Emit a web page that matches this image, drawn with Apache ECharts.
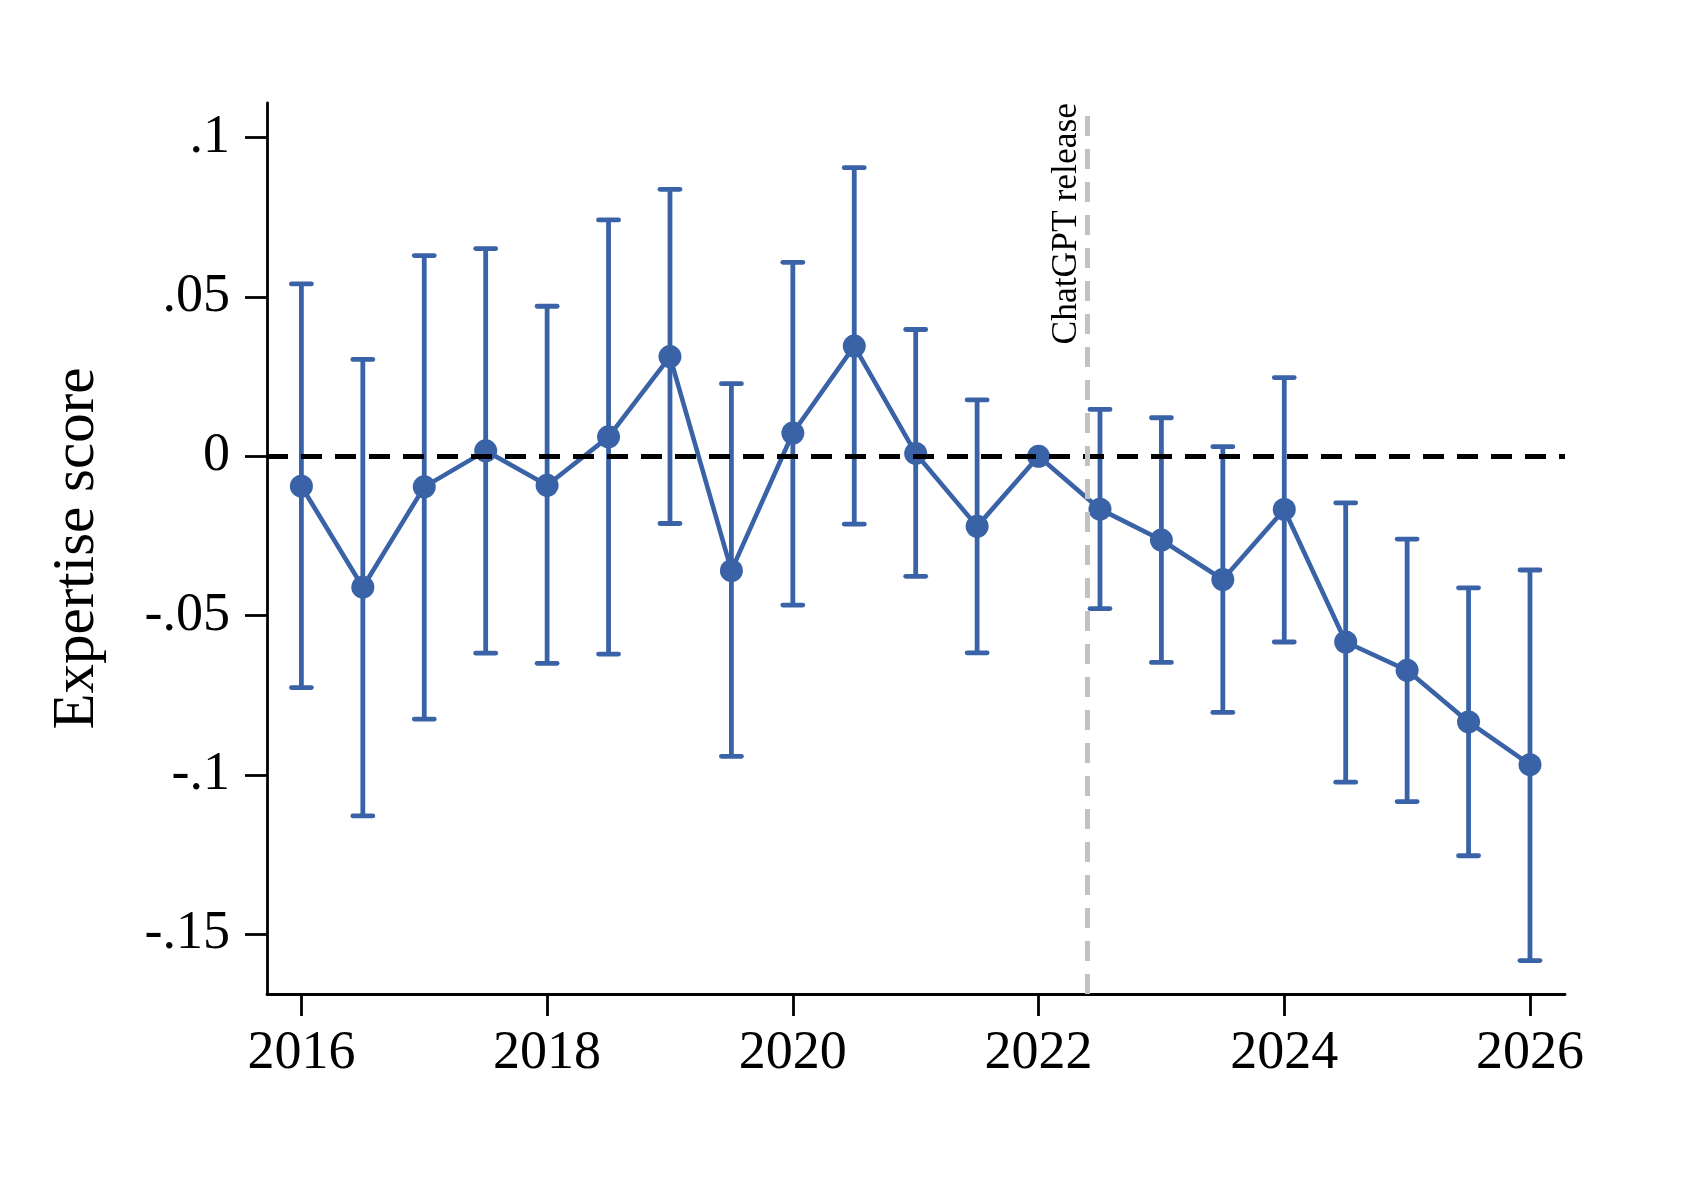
<!DOCTYPE html>
<html>
<head>
<meta charset="utf-8">
<script src="https://cdn.jsdelivr.net/npm/echarts@6/dist/echarts.min.js"></script>
<style>
html,body{margin:0;padding:0;background:#ffffff;}
#chart{width:1692px;height:1180px;}
</style>
</head>
<body>
<div id="chart"></div>
<script>
// ---- Data ----
const periods = [2016, 2016.5, 2017, 2017.5, 2018, 2018.5, 2019, 2019.5, 2020, 2020.5,
                 2021, 2021.5, 2022, 2022.5, 2023, 2023.5, 2024, 2024.5, 2025, 2025.5, 2026];
const estimates = [-0.0094, -0.0411, -0.0096, 0.0017, -0.0091, 0.0061, 0.0313, -0.0359, 0.0073, 0.0346,
                   0.0009, -0.0220, 0.0000, -0.0166, -0.0263, -0.0387, -0.0167, -0.0583, -0.0672, -0.0834, -0.0968];
const ciUpper = [0.0541, 0.0304, 0.0630, 0.0652, 0.0471, 0.0742, 0.0838, 0.0228, 0.0609, 0.0906,
                 0.0398, 0.0177, null, 0.0147, 0.0121, 0.0030, 0.0247, -0.0146, -0.0260, -0.0413, -0.0357];
const ciLower = [-0.0726, -0.1129, -0.0825, -0.0618, -0.0650, -0.0621, -0.0211, -0.0942, -0.0467, -0.0213,
                 -0.0377, -0.0617, null, -0.0478, -0.0647, -0.0804, -0.0583, -0.1023, -0.1084, -0.1254, -0.1583];
const xTicks = [2016, 2018, 2020, 2022, 2024, 2026];
const yTicks = [-0.15, -0.1, -0.05, 0, 0.05, 0.1];
const yTickLabels = ['-.15', '-.1', '-.05', '0', '.05', '.1'];
const releaseDate = 2022.4;
const releaseLabel = 'ChatGPT release';
const yAxisTitle = 'Expertise score';

// ---- Styling ----
const BLUE = '#3a63a7';
const FONT = 'Liberation Serif';

const pointData = periods.map((p, i) => [p, estimates[i]]);
const ciData = periods
  .map((p, i) => [p, ciLower[i], ciUpper[i]])
  .filter(d => d[1] !== null && d[2] !== null);

const chart = echarts.init(document.getElementById('chart'), null, {renderer: 'canvas'});

const option = {
  animation: false,
  backgroundColor: '#ffffff',
  grid: {
    left: 267, right: 127, top: 103, bottom: 186,
    containLabel: false,
    outerBoundsMode: 'none'
  },
  xAxis: {
    type: 'value',
    min: 2015.72,
    max: 2026.285,
    splitLine: {show: false},
    axisLine: {show: true, onZero: false, lineStyle: {color: '#000', width: 2.8}},
    axisTick: {show: true, length: 22, lineStyle: {color: '#000', width: 2.8}, customValues: xTicks},
    axisLabel: {
      show: true, customValues: xTicks, margin: 33,
      fontSize: 54, color: '#000', fontFamily: FONT,
      formatter: v => String(Math.round(v))
    }
  },
  yAxis: {
    type: 'value',
    min: -0.1688,
    max: 0.1109,
    splitLine: {show: false},
    axisLine: {show: true, onZero: false, lineStyle: {color: '#000', width: 2.8}},
    axisTick: {show: true, length: 22, lineStyle: {color: '#000', width: 2.8}, customValues: yTicks},
    axisLabel: {
      show: true, customValues: yTicks, margin: 37,
      fontSize: 54, color: '#000', fontFamily: FONT,
      formatter: v => {
        const i = yTicks.findIndex(t => Math.abs(t - v) < 1e-9);
        return i >= 0 ? yTickLabels[i] : '';
      }
    },
    name: yAxisTitle,
    nameLocation: 'middle',
    nameRotate: 90,
    nameGap: 160,
    nameTextStyle: {fontSize: 59, color: '#000', fontFamily: FONT}
  },
  series: [
    {
      type: 'custom',
      name: 'ci',
      data: ciData,
      encode: {x: 0, y: [1, 2]},
      z: 2,
      silent: true,
      renderItem: function (params, api) {
        const x = api.value(0);
        const lo = api.coord([x, api.value(1)]);
        const hi = api.coord([x, api.value(2)]);
        const hw = 10;
        const style = {stroke: BLUE, lineWidth: 4.8, lineCap: 'round'};
        return {
          type: 'group',
          children: [
            {type: 'line', shape: {x1: lo[0], y1: lo[1], x2: hi[0], y2: hi[1]}, style: {stroke: BLUE, lineWidth: 4.8}},
            {type: 'line', shape: {x1: hi[0] - hw, y1: hi[1], x2: hi[0] + hw, y2: hi[1]}, style: style},
            {type: 'line', shape: {x1: lo[0] - hw, y1: lo[1], x2: lo[0] + hw, y2: lo[1]}, style: style}
          ]
        };
      }
    },
    {
      type: 'line',
      name: 'estimate',
      data: pointData,
      z: 3,
      symbol: 'circle',
      symbolSize: 23,
      showSymbol: true,
      lineStyle: {color: BLUE, width: 4.6},
      itemStyle: {color: BLUE},
      silent: true,
      markLine: {
        silent: true,
        symbol: ['none', 'none'],
        animation: false,
        data: [
          {
            yAxis: 0,
            lineStyle: {color: '#000', width: 5, type: [21, 13]},
            label: {show: false}
          },
          {
            xAxis: releaseDate,
            lineStyle: {color: '#c2c2c2', width: 5, type: [20, 13]},
            label: {
              show: true,
              formatter: releaseLabel,
              position: 'insideEndTop',
              distance: [0, 3],
              fontSize: 35.5,
              color: '#000',
              fontFamily: FONT
            }
          }
        ]
      }
    }
  ]
};

chart.setOption(option);
</script>
</body>
</html>
